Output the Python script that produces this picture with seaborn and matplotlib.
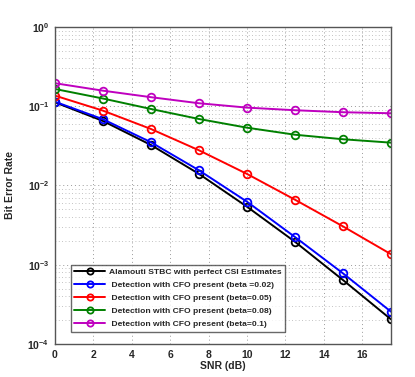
"""
BER vs SNR for Alamouti STBC with CFO
"""

import matplotlib
matplotlib.use('Agg')
import matplotlib.pyplot as plt
from matplotlib.ticker import LogLocator, NullFormatter
import seaborn as sns
import pandas as pd

snr_db = [0, 2.5, 5, 7.5, 10, 12.5, 15, 17.5]

ber_perfect_csi = [0.112, 0.0651, 0.0324, 0.0140, 0.0054, 0.00195, 0.000642, 0.000205]
ber_beta_002 = [0.114, 0.0685, 0.0351, 0.01555, 0.00625, 0.00224, 0.00078, 0.000256]
ber_beta_005 = [0.136, 0.0879, 0.0516, 0.0278, 0.0140, 0.00662, 0.00305, 0.00136]
ber_beta_008 = [0.165, 0.125, 0.0923, 0.069, 0.0536, 0.0437, 0.0383, 0.0347]
ber_beta_01 = [0.195, 0.157, 0.130, 0.109, 0.096, 0.089, 0.084, 0.0815]

labels = [
    'Alamouti STBC with perfect CSI Estimates',
    ' Detection with CFO present (beta =0.02)',
    ' Detection with CFO present (beta=0.05)',
    ' Detection with CFO present (beta=0.08)',
    ' Detection with CFO present (beta=0.1)',
]
colors = ['black', 'blue', 'red', 'green', 'm']

series = [ber_perfect_csi, ber_beta_002, ber_beta_005, ber_beta_008, ber_beta_01]
rows = []
for lab, vals in zip(labels, series):
    for s, b in zip(snr_db, vals):
        rows.append({'SNR': s, 'BER': b, 'curve': lab})
df = pd.DataFrame(rows)

sns.set_style('white')
plt.rcParams['font.family'] = ['Liberation Sans', 'DejaVu Sans']

fig = plt.figure(figsize=(4.15, 3.77), dpi=100)
ax = fig.add_axes([0.1325, 0.0875, 0.8095, 0.841])

sns.lineplot(data=df, x='SNR', y='BER', hue='curve', hue_order=labels,
             palette=dict(zip(labels, colors)), marker='o', markersize=5.5,
             markerfacecolor='none', markeredgewidth=1.3, linewidth=1.4,
             ax=ax, legend=False)
data_lines = ax.get_lines()[:len(labels)]
for line, c in zip(data_lines, colors):
    line.set_markeredgecolor(c)

ax.set_yscale('log')
ax.set_xlim(0, 17.5)
ax.set_ylim(1e-4, 1)
ax.set_xticks([0, 2, 4, 6, 8, 10, 12, 14, 16])
ax.yaxis.set_major_locator(LogLocator(base=10, numticks=10))
ax.yaxis.set_minor_locator(LogLocator(base=10, subs=range(2, 10), numticks=20))
ax.yaxis.set_minor_formatter(NullFormatter())
ax.tick_params(axis='both', which='both', direction='in', labelsize=7.5)
ax.tick_params(axis='both', which='major', length=4, pad=4)
ax.tick_params(axis='y', which='minor', length=2)
for lbl in ax.get_xticklabels() + ax.get_yticklabels():
    lbl.set_fontweight('bold')

ax.grid(True, which='major', linestyle=(0, (1, 3)), color='#9a9a9a', linewidth=0.7)
ax.grid(True, which='minor', axis='y', linestyle=(0, (1, 3)), color='#b0b0b0', linewidth=0.6)
for sp in ax.spines.values():
    sp.set_color('#555555')
    sp.set_linewidth(1.0)

ax.set_xlabel('SNR (dB)', fontsize=7.5, fontweight='bold', labelpad=1)
ax.set_ylabel('Bit Error Rate', fontsize=7.5, fontweight='bold', labelpad=9)

leg = ax.legend(data_lines, labels, loc='lower left', bbox_to_anchor=(0.035, 0.025),
                prop={'weight': 'bold', 'size': 6.1},
                frameon=True, fancybox=False, edgecolor='#444444',
                handlelength=3.6, handletextpad=0.5, labelspacing=0.6,
                borderpad=0.4)
leg.get_frame().set_linewidth(1.0)
for h in leg.legend_handles:
    h.set_markersize(4.5)

fig.savefig('out.png', dpi=100)
